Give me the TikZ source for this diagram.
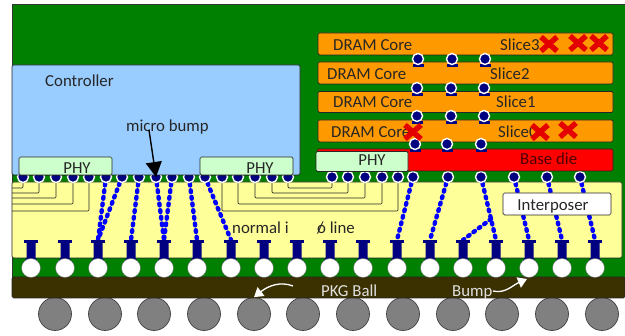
\documentclass[tikz,border=0pt]{standalone}
\usepackage{fontspec}
\setmainfont{Carlito}
\usetikzlibrary{arrows.meta,calc}
\definecolor{gr}{HTML}{008000}
\definecolor{ctrl}{HTML}{99CCFF}
\definecolor{phyc}{HTML}{CCFFCC}
\definecolor{yel}{HTML}{FFFF99}
\definecolor{org}{HTML}{FF9900}
\definecolor{brn}{HTML}{3B3000}
\definecolor{nav}{HTML}{000080}
\definecolor{txt}{HTML}{262626}
\tikzset{
 x=1pt,y=-1pt,
 block/.style={draw=black!85,line width=.7pt,rounded corners=1.5pt,anchor=north west,inner sep=0pt,outer sep=0pt},
 label/.style={text=txt,font=\fontsize{16.8}{17}\selectfont,inner sep=0pt,anchor=base west},
 clabel/.style={label,anchor=base},
 wlabel/.style={label,text=white!88!black},
 tsv/.style={draw=blue,line width=4.4pt,line cap=round,dash pattern=on 1.8pt off 4.9pt},
 wire/.style={draw=black!85,line width=.7pt,rounded corners=1pt},
 ubump/.style={circle,fill=nav,draw=white,line width=1.4pt,minimum size=11pt,inner sep=0pt},
 bump/.style={circle,fill=white,draw=black!60,line width=.4pt,minimum size=19pt,inner sep=0pt},
 ball/.style={circle,fill=gray,draw=black!75,line width=.7pt,minimum size=33pt,inner sep=0pt},
 cross/.style={draw=red!90!black,line width=5.4pt},
 warrow/.style={draw=white,line width=1.3pt,-{Triangle[length=9pt,width=11pt]}},
}
\begin{document}
\begin{tikzpicture}
\useasboundingbox (0,0) rectangle (625,336);
% balls
\foreach \i/\x in {1/55,2/105,3/154,4/204,5/254,6/303,7/353,8/403,9/453,10/502,11/552,12/602}
  \node[ball] (ball\i) at (\x,314) {};
% package layers
\fill[gr,draw=black!80,line width=.6pt] (12,4) -- (625,4) -- (625,277) -- (12,277) -- cycle;
\node[block,fill=brn,minimum width=613pt,minimum height=21pt] (pkg) at (12,277) {};
\node[block,fill=yel,minimum width=610pt,minimum height=76pt] (inter) at (12,182) {};
% coordinates of the pillars and micro bumps
\foreach \i/\x in {1/31,2/65,3/98,4/131,5/164,6/197,7/231,8/264,9/297,10/330,11/363,12/397,13/430,14/463,15/496,16/529,17/562,18/595}
  \coordinate (p\i) at (\x,240);
\foreach \i/\x in {1/23,2/39,3/56,4/73,5/89,6/106,7/122,8/139,9/156,10/172,11/189,12/205,13/222,14/238,15/255,16/272,17/288,18/332,19/348,20/365,21/382,22/398,23/413,24/448,25/481,26/514,27/547,28/580}
  \coordinate (m\i) at (\x,177);
\coordinate (j1) at (491,219);
% left fan-out wires
\foreach \i/\d in {1/188,2/193,3/198,4/204,5/211}
  \draw[wire] (m\i) -- (m\i |- 0,\d) -- (12,\d);
% centre nested wires
\foreach \a/\b/\d in {17/18/188,16/19/193,15/20/198,14/21/204,13/22/211}
  \draw[wire] (m\a) -- (m\a |- 0,\d) -- (m\b |- 0,\d) -- (m\b);
% dotted vias
\foreach \a/\b in {6/3,7/3,8/4,9/5,10/5,11/6,12/7,23/12,24/13,25/15,26/16,27/17,28/18}
  \draw[tsv] (m\a) -- (p\b);
\draw[tsv] (j1) -- (p14);
% pillars and bumps
\foreach \i in {1,...,18}{
  \fill[nav] ($(p\i)+(-7,0)$) rectangle ($(p\i)+(7,3)$);
  \fill[nav] ($(p\i)+(-4.5,3)$) -- ($(p\i)+(4.5,3)$) -- ($(p\i)+(4.5,18)$) -- ($(p\i)+(8,24)$) -- ($(p\i)+(-8,24)$) -- ($(p\i)+(-4.5,18)$) -- cycle;
  \node[bump] (b\i) at ($(p\i)+(0,28)$) {};
}
\foreach \i in {1,...,28}
  \node[ubump] (mb\i) at (m\i) {};
% controller
\node[block,fill=ctrl,minimum width=288pt,minimum height=110pt] (controller) at (12,65) {};
\node[block,fill=phyc,minimum width=93pt,minimum height=18pt] (phyL) at (19,157) {};
\node[block,fill=phyc,minimum width=93pt,minimum height=18pt] (phyM) at (200,157) {};
% DRAM stack
\node[block,fill=org,minimum width=295pt,minimum height=22pt] (s3) at (318,33) {};
\node[block,fill=org,minimum width=295pt,minimum height=22pt] (s2) at (318,62) {};
\node[block,fill=org,minimum width=295pt,minimum height=21pt] (s1) at (318,91.5) {};
\node[block,fill=org,minimum width=295pt,minimum height=22pt] (s0) at (318,120) {};
\node[block,fill=red,minimum width=296pt,minimum height=22pt] (base) at (317,149) {};
\node[block,fill=phyc,minimum width=92pt,minimum height=20pt] (phyR) at (316,151.5) {};
\foreach \r/\y/\xa/\xb/\xc in {a/59/418/452/485,b/88/417/451/484,c/116/417/451/484,d/144/415/447/481}{
  \foreach \n/\x in {1/\xa,2/\xb,3/\xc}{
    \fill[nav] (\x-5.5,\y+5.5) rectangle (\x+5.5,\y+8);
    \node[ubump] (st\r\n) at (\x,\y) {};
  }
}
% interposer label
\node[block,fill=white,minimum width=108pt,minimum height=22pt] (ilab) at (503,193) {};
% texts
\node[label] (t1) at (45,87) {Controller};
\node[label] (t2) at (126,132) {micro bump};
\node[clabel] (t3) at (77,174) {PHY};
\node[clabel] (t4) at (260,174) {PHY};
\node[clabel] (t5) at (372,166) {PHY};
\node[label] (t6) at (333,51) {DRAM Core};
\node[label] (t7) at (327,80) {DRAM Core};
\node[label] (t8) at (333,108) {DRAM Core};
\node[label] (t9) at (331,138) {DRAM Core};
\node[label] (t10) at (500,51) {Slice3};
\node[label] (t11) at (490,80) {Slice2};
\node[label] (t12) at (496,108) {Slice1};
\node[label] (t13) at (498,138) {Slice0};
\node[label,text=black!70!red] (t14) at (520,165) {Base die};
\node[clabel] (t15) at (553,211) {Interposer};
\node[label] (t16) at (232,234) {normal i};
\node[label] (t17) at (317,234) {\makebox[0pt][l]{/}o line};
\node[wlabel] (t18) at (321,297) {PKG Ball};
\node[wlabel] (t19) at (452,297) {Bump};
% crosses
\foreach \x/\y in {549/44,578/43,599/43,413/132,540/132,568/130}{
  \draw[cross] (\x-8,\y-7) -- (\x+8,\y+7);
  \draw[cross] (\x+8,\y-7) -- (\x-8,\y+7);
}
% arrows
\coordinate (ma) at (149,130);
\draw[line width=1.4pt,-{Triangle[length=15pt,width=16pt]}] (ma) -- (mb9.center);
\coordinate (wa) at (293,286);
\coordinate (wb) at (493,291);
\draw[warrow] (wa) .. controls (280,281) and (268,286) .. (ball5.north);
\draw[warrow] (wb) .. controls (505,294) and (513,285) .. (527,279);
\end{tikzpicture}
\end{document}
